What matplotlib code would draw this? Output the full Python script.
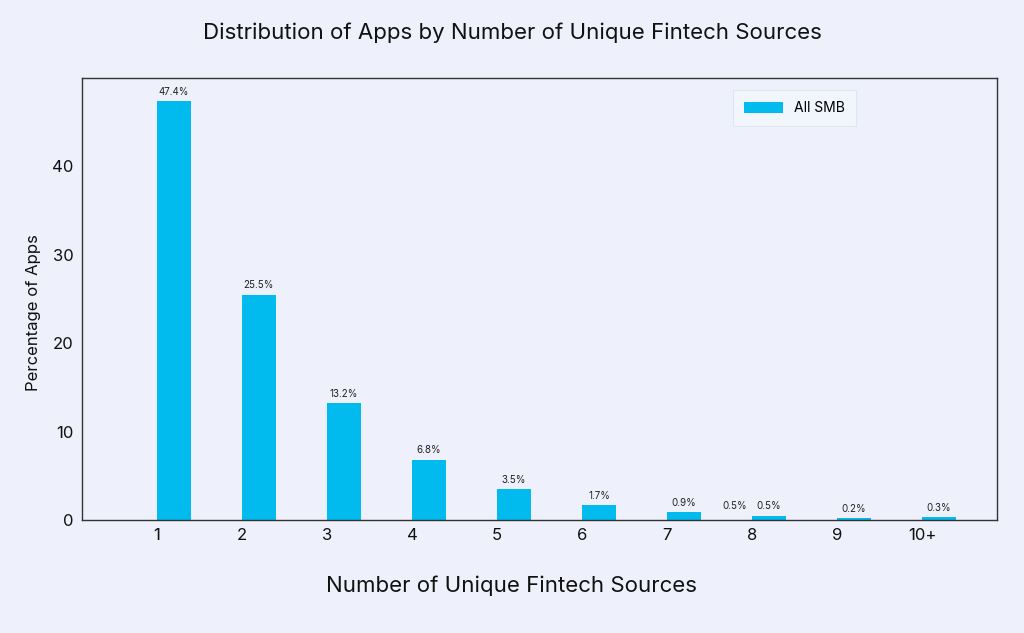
import matplotlib.pyplot as plt
import numpy as np

# Data
categories = ["1", "2", "3", "4", "5", "6", "7", "8", "9", "10+"]
pct_all_smb = [47.4, 25.5, 13.2, 6.8, 3.5, 1.7, 0.9, 0.5, 0.2, 0.3]
# stray label drawn left of the bar at "8" in the original
extra_label_cat = "8"
extra_label_val = 0.5

bg = "#eef0fb"
bar_color = "#01bbef"

plt.rcParams['font.family'] = ['Inter', 'DejaVu Sans']

fig = plt.figure(figsize=(10.24, 6.33), dpi=100, facecolor=bg)
ax = fig.add_axes([82 / 1024, 1 - 520 / 633, (997 - 82) / 1024, (520 - 78) / 633])
ax.set_facecolor(bg)

x = np.arange(1, len(categories) + 1)
width = 0.4
bars = ax.bar(x, pct_all_smb, width, align="edge", color=bar_color, label="All SMB")

for rect, v in zip(bars, pct_all_smb):
    ax.text(rect.get_x() + rect.get_width() / 2, v + 0.5, f"{v}%",
            ha="center", va="bottom", fontsize=7, color="#222222")

xi = categories.index(extra_label_cat) + 1
ax.text(xi - 0.2, extra_label_val + 0.5, f"{extra_label_val}%",
        ha="center", va="bottom", fontsize=7, color="#222222")

ax.set_xticks(x)
ax.set_xticklabels(categories)
ax.set_xlim(0.12, 10.88)
ax.set_ylim(0, 50)
ax.set_yticks([0, 10, 20, 30, 40])
ax.tick_params(length=0, labelsize=12, colors="#111111", pad=6)

for s in ax.spines.values():
    s.set_color("#333333")
    s.set_linewidth(1)

ax.set_ylabel("Percentage of Apps", fontsize=12, color="#111111", labelpad=8)
ax.yaxis.label.set_y(0.47)
fig.text(512 / 1024, 1 - 586 / 633, "Number of Unique Fintech Sources",
         ha="center", va="center", fontsize=16, color="#111111")
fig.text(512 / 1024, 1 - 33 / 633, "Distribution of Apps by Number of Unique Fintech Sources",
         ha="center", va="center", fontsize=16, color="#111111")

leg = ax.legend(loc="upper right", bbox_to_anchor=(0.846, 0.973), borderaxespad=0,
                fontsize=10, frameon=True, borderpad=0.8, handlelength=2.8,
                handleheight=0.8, handletextpad=0.8, fancybox=False)
leg.get_frame().set_facecolor("#f2f7fd")
leg.get_frame().set_edgecolor("#dde3ee")
leg.get_frame().set_linewidth(0.8)

fig.savefig("out.png", dpi=100, facecolor=bg)
